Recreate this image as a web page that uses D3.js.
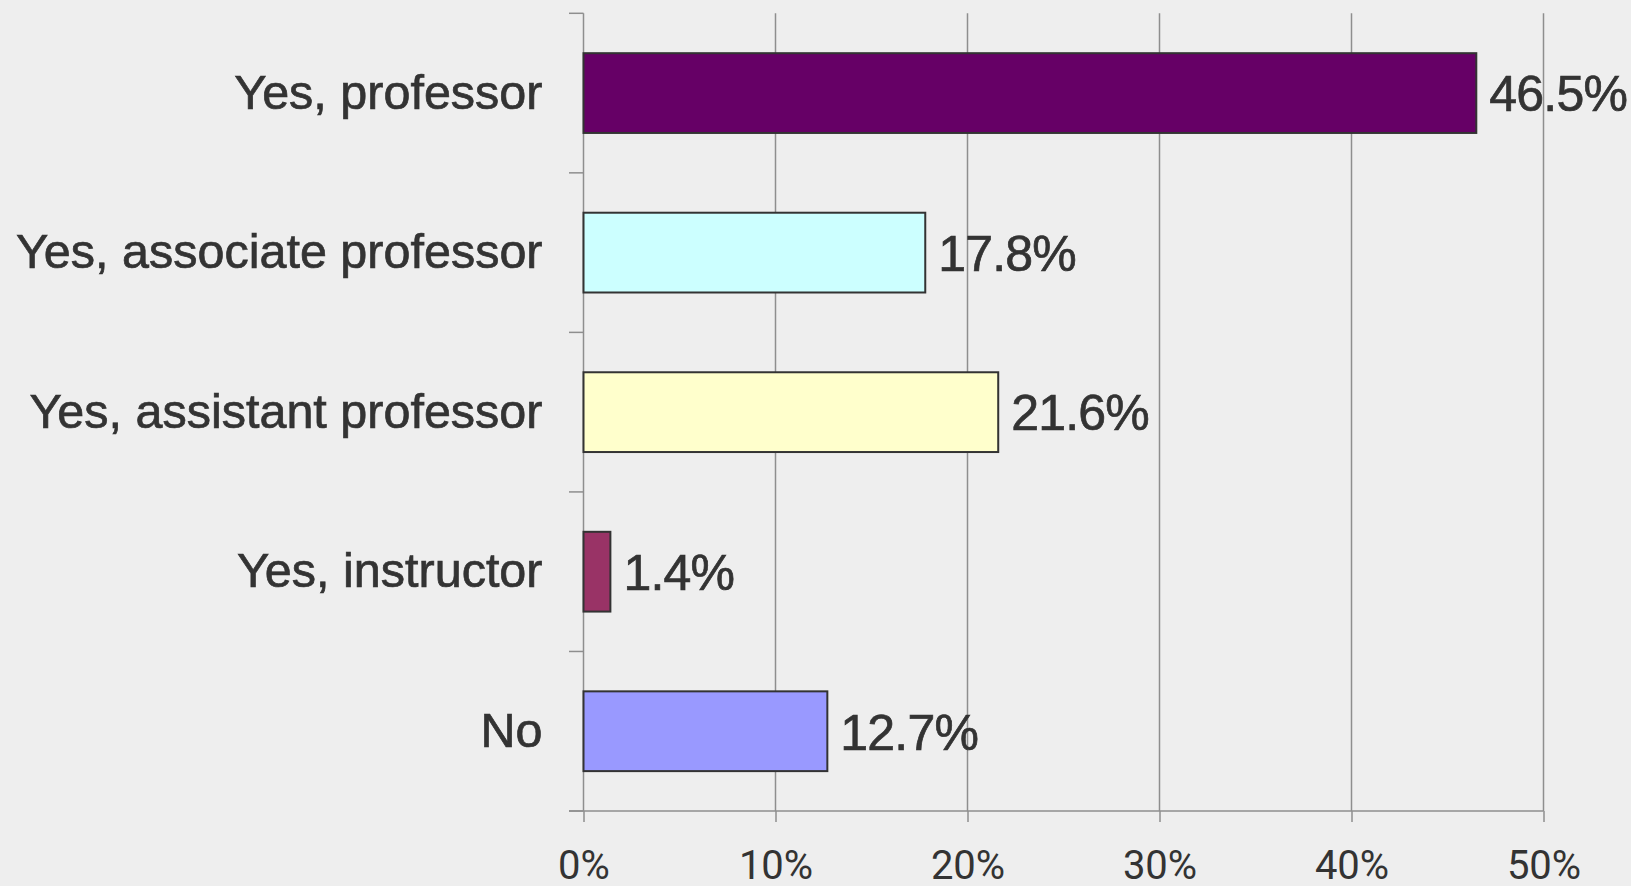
<!DOCTYPE html>
<html>
<head>
<meta charset="utf-8">
<script src="https://cdn.jsdelivr.net/npm/d3@7/dist/d3.min.js"></script>
<style>
    html, body { margin: 0; padding: 0; background: #eeeeee; overflow: hidden; }
</style>
</head>
<body>
<div id="chart"></div>
<script>
// data
let categories = ["Yes, professor", "Yes, associate professor", "Yes, assistant professor", "Yes, instructor", "No"];
let values = [46.5, 17.8, 21.6, 1.4, 12.7];   // percent
let barColors = ["#660066", "#ccffff", "#ffffcc", "#993366", "#9999ff"];
let xTicks = [0, 10, 20, 30, 40, 50];

let width = 1631;
let height = 886;

let plot = {
    left: 583.5,
    right: 1543.5,
    top: 13.3,
    bottom: 811
};  //px

let svg = d3.select("#chart")
    .append("svg")
    .attr("width", width)
    .attr("height", height);

svg.append("rect")
    .attr("width", "100%")
    .attr("height", "100%")
    .attr("fill", "#eeeeee");

let x = d3.scaleLinear()
    .domain([0, 50])
    .range([plot.left, plot.right]);

let y = d3.scaleBand()
    .domain(categories)
    .range([plot.top, plot.bottom])
    .paddingInner(0.5)
    .paddingOuter(0.25);

let gridColor = "#8e8e8e";

// vertical grid lines
svg.append("g")
    .selectAll("line")
    .data(xTicks.slice(1))
    .join("line")
    .attr("x1", d => x(d))
    .attr("x2", d => x(d))
    .attr("y1", plot.top)
    .attr("y2", plot.bottom)
    .attr("stroke", gridColor)
    .attr("stroke-width", 1.5);

/*---------------
 // x axis stuff
 ----------------*/
let xAxis = d3.axisBottom(x)
    .tickValues(xTicks)
    .tickSize(11)
    .tickPadding(29)
    .tickFormat(d => d + "%");

let gx = svg.append("g")
    .attr("transform", "translate(0," + plot.bottom + ")")
    .call(xAxis);

gx.select(".domain").remove();
gx.selectAll(".tick line")
    .attr("stroke", gridColor)
    .attr("stroke-width", 1.5);
gx.selectAll(".tick text")
    .attr("fill", "#333")
    .style("font-family", "Roboto, sans-serif")
    .style("font-size", "40px");

svg.append("line")
    .attr("x1", plot.left - 14.5)
    .attr("x2", plot.right)
    .attr("y1", plot.bottom)
    .attr("y2", plot.bottom)
    .attr("stroke", gridColor)
    .attr("stroke-width", 1.5);

/*---------------
 // y axis stuff
 ----------------*/
svg.append("line")
    .attr("x1", plot.left)
    .attr("x2", plot.left)
    .attr("y1", plot.top)
    .attr("y2", plot.bottom)
    .attr("stroke", gridColor)
    .attr("stroke-width", 1.5);

// ticks sit between the categories, not on them
let bounds = d3.range(categories.length + 1)
    .map(i => plot.top + i * (plot.bottom - plot.top) / categories.length);

svg.append("g")
    .selectAll("line")
    .data(bounds)
    .join("line")
    .attr("x1", plot.left - 14.5)
    .attr("x2", plot.left)
    .attr("y1", d => d)
    .attr("y2", d => d)
    .attr("stroke", gridColor)
    .attr("stroke-width", 1.5);

svg.append("g")
    .selectAll("text")
    .data(categories)
    .join("text")
    .attr("x", plot.left - 41)
    .attr("y", d => y(d) + y.bandwidth() / 2)
    .attr("dy", "0.325em")
    .attr("text-anchor", "end")
    .attr("fill", "#333")
    .attr("stroke", "#333")
    .attr("stroke-width", 0.7)
    .style("font-family", "'Liberation Sans', Arial, sans-serif")
    .style("font-size", "48.5px")
    .text(d => d);

// bars
svg.append("g")
    .selectAll("rect")
    .data(values)
    .join("rect")
    .attr("x", x(0))
    .attr("y", (d, i) => y(categories[i]))
    .attr("width", d => x(d) - x(0))
    .attr("height", y.bandwidth())
    .attr("fill", (d, i) => barColors[i])
    .attr("stroke", "#333")
    .attr("stroke-width", 2);

// value labels
svg.append("g")
    .selectAll("text")
    .data(values)
    .join("text")
    .attr("x", d => x(d) + 13)
    .attr("y", (d, i) => y(categories[i]) + y.bandwidth() / 2)
    .attr("dy", "0.366em")
    .attr("fill", "#333")
    .attr("stroke", "#333")
    .attr("stroke-width", 0.7)
    .style("font-family", "'Liberation Sans', Arial, sans-serif")
    .style("font-size", "50px")
    .style("letter-spacing", "-0.8px")
    .text(d => d.toFixed(1) + "%");
</script>
</body>
</html>
